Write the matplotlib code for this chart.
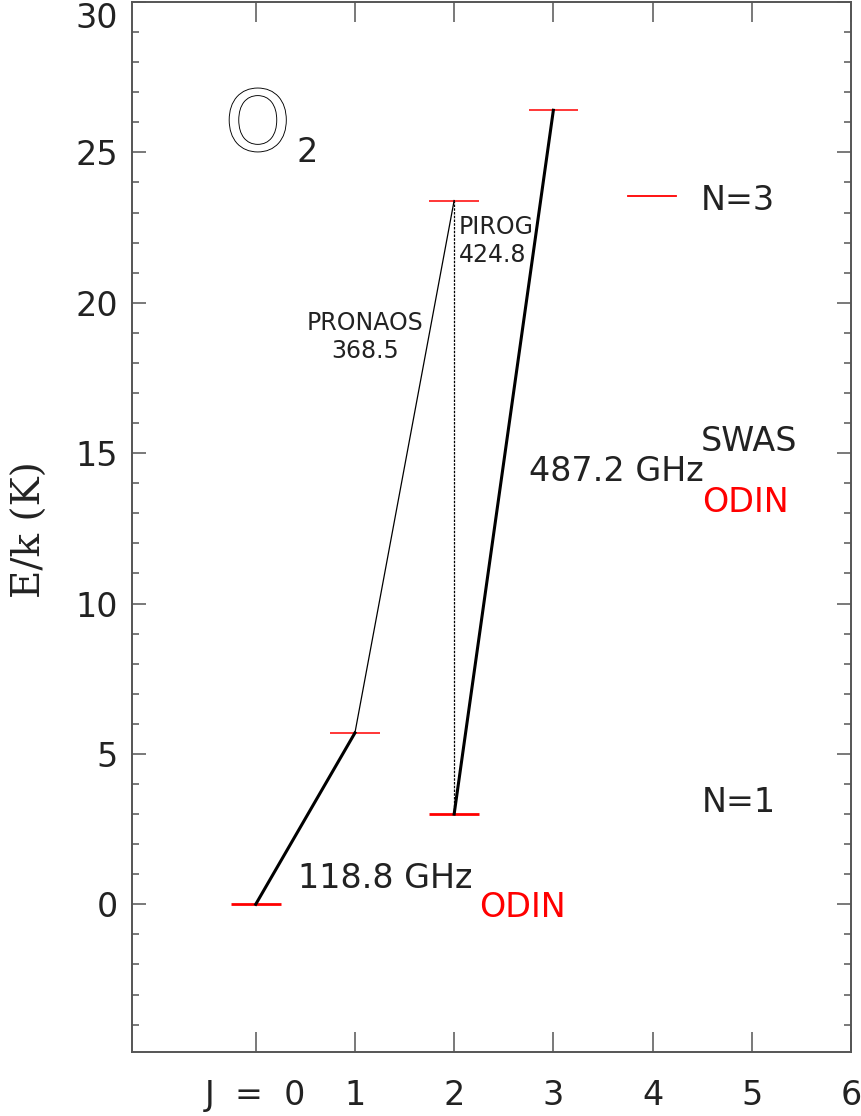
import matplotlib
matplotlib.use("Agg")
import matplotlib.pyplot as plt
import matplotlib.patheffects as pe
from matplotlib.ticker import MultipleLocator, FixedLocator

# ---- data ----
level_J = [0, 1, 2, 2, 3]
level_E = [0.0, 5.7, 3.0, 23.4, 26.4]
level_N = [1, 1, 1, 3, 3]

# transitions: (lower level index, upper level index)
trans_lo = [0, 1, 2, 2]
trans_hi = [1, 3, 3, 4]

xtick_vals = [0, 1, 2, 3, 4, 5, 6]
xtick_labels = ["J  =  0", "1", "2", "3", "4", "5", "6"]
ytick_vals = [0, 5, 10, 15, 20, 25, 30]

plt.rcParams['font.family'] = ['DejaVu Sans']

fig = plt.figure(figsize=(8.61, 11.16), dpi=100)
ax = fig.add_axes([131.7/861, 1-1051.7/1116, (851-131.7)/861, (1051.7-2)/1116])
ax.set_xlim(-1.25, 6.0)
ax.set_ylim(-4.9, 30.0)

txtc = '#222222'
axc = '#555555'

# energy levels
half = 0.25
for j, e, n in zip(level_J, level_E, level_N):
    lw = 2.0 if (n == 1 and j != 1) else 1.1
    ax.plot([j-half, j+half], [e, e], color='red', lw=lw, solid_capstyle='butt', zorder=2)

# transitions
styles = [dict(lw=2.2, ls='-'), dict(lw=0.9, ls='-'),
          dict(lw=0.9, ls=(0, (2, 1))), dict(lw=2.2, ls='-')]
for lo, hi, st in zip(trans_lo, trans_hi, styles):
    ax.plot([level_J[lo], level_J[hi]], [level_E[lo], level_E[hi]], color='black',
            zorder=3, **st)

# legend-ish red segment for N=3
ax.plot([3.75, 4.24], [23.55, 23.55], color='red', lw=1.3)

fs = 24
ax.text(0.43, 0.87, "118.8 GHz", fontsize=fs, color=txtc, va='center', ha='left')
ax.text(2.25, -0.12, "ODIN", fontsize=fs, color='red', va='center', ha='left')
ax.text(2.75, 14.39, "487.2 GHz", fontsize=fs, color=txtc, va='center', ha='left')
ax.text(4.49, 15.40, "SWAS", fontsize=fs, color=txtc, va='center', ha='left')
ax.text(4.50, 13.37, "ODIN", fontsize=fs, color='red', va='center', ha='left')
ax.text(4.49, 23.40, "N=3", fontsize=fs, color=txtc, va='center', ha='left')
ax.text(4.50, 3.40, "N=1", fontsize=fs, color=txtc, va='center', ha='left')

ax.text(2.05, 22.05, "PIROG\n424.8", fontsize=17, color=txtc, va='center', ha='left',
        linespacing=1.25)
ax.text(1.1, 18.86, "PRONAOS\n368.5", fontsize=17, color=txtc, va='center', ha='center',
        linespacing=1.25)

# O2 label
ax.text(0.02, 25.85, "O", fontsize=60, color='white', va='center', ha='center',
        path_effects=[pe.withStroke(linewidth=1.3, foreground='black')])
ax.text(0.517, 25.01, "2", fontsize=fs, color=txtc, va='center', ha='center')

# axes styling
for s in ax.spines.values():
    s.set_color(axc)
    s.set_linewidth(1.4)

ax.xaxis.set_major_locator(FixedLocator(xtick_vals))
ax.set_xticklabels(xtick_labels)
ax.yaxis.set_major_locator(FixedLocator(ytick_vals))
ax.yaxis.set_minor_locator(MultipleLocator(1))
ax.tick_params(axis='x', which='major', direction='in', length=14.5, width=1.1,
               color=axc, top=True, bottom=True, labelsize=fs, labelcolor=txtc, pad=20)
ax.tick_params(axis='y', which='major', direction='in', length=10, width=1.1,
               color=axc, left=True, right=True, labelsize=fs, labelcolor=txtc, pad=10)
ax.tick_params(axis='y', which='minor', direction='in', length=5, width=1.1,
               color=axc, left=True, right=True)

ylabels = ax.get_yticklabels()
ylabels[-1].set_verticalalignment('top')

fig.text(30/861, 1-530/1116, "E/k (K)", rotation=90, fontsize=28, color=txtc,
         family='DejaVu Serif', ha='center', va='center')

fig.savefig("out.png", dpi=100)
